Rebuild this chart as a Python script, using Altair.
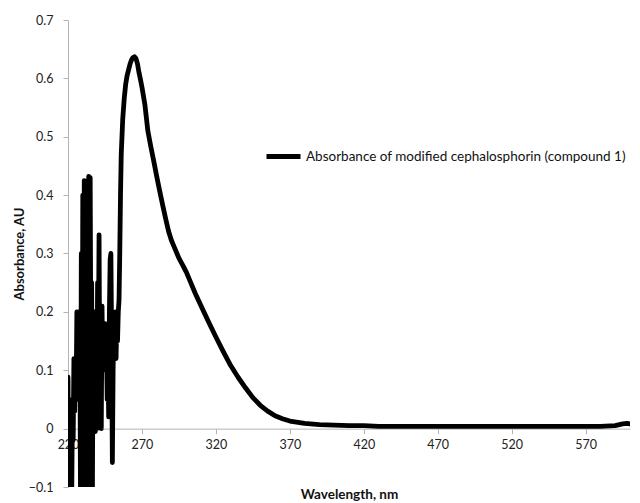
import altair as alt
import pandas as pd

# Noisy region 220-254.5 nm, 0.5 nm steps
noise_wl = [220 + 0.5 * i for i in range(70)]
noise_ab = [0.088, -0.12, 0.05, -0.13, 0.03, -0.12, 0.04, -0.02, 0.12, 0.03,
            0.11, 0.06, 0.20, 0.05, 0.20, 0.10, 0.18, -0.15, 0.30, -0.12,
            0.40, -0.15, 0.425, -0.14, 0.42, -0.13, 0.30, -0.15, 0.432, -0.12,
            0.43, 0.10, 0.25, -0.12, 0.20, 0.05, 0.20, -0.005, 0.18, 0.0,
            0.25, 0.12, 0.332, 0.05, 0.20, 0.0, 0.21, 0.10, 0.16, 0.12,
            0.18, 0.10, 0.15, 0.05, 0.12, 0.02, 0.20, 0.29, 0.30, 0.15,
            -0.058, 0.10, 0.18, 0.12, 0.20, 0.12, 0.185, 0.15, 0.20, 0.22]

# Main absorption band
band_wl = [255, 255.5, 256, 257, 258, 259, 260, 261, 262, 263, 264, 265, 266,
           267, 268, 269, 270, 272, 274, 276, 278, 280, 282, 284, 286, 288,
           290, 292, 295, 298, 300, 303, 306, 310, 315, 320, 325, 330, 335,
           340, 345, 350, 355, 360, 365, 370]
band_ab = [0.30, 0.40, 0.47, 0.53, 0.565, 0.59, 0.605, 0.615, 0.625, 0.632,
           0.636, 0.637, 0.634, 0.625, 0.61, 0.598, 0.585, 0.555, 0.51, 0.483,
           0.458, 0.432, 0.407, 0.383, 0.36, 0.338, 0.322, 0.31, 0.292, 0.278,
           0.268, 0.25, 0.232, 0.21, 0.183, 0.157, 0.132, 0.108, 0.088, 0.07,
           0.053, 0.04, 0.03, 0.022, 0.017, 0.013]

# Flat tail
tail_wl = [380, 390, 400, 410, 420, 430, 440, 450, 460, 470, 480, 490, 500,
           510, 520, 530, 540, 550, 560, 570, 580, 590, 595, 598, 600]
tail_ab = [0.009, 0.007, 0.006, 0.005, 0.005, 0.004, 0.004, 0.004, 0.004,
           0.004, 0.004, 0.004, 0.004, 0.004, 0.004, 0.004, 0.004, 0.004,
           0.004, 0.004, 0.004, 0.005, 0.008, 0.009, 0.008]

series_name = "Absorbance of modified cephalosphorin (compound 1)"
x_ticks = [220, 270, 320, 370, 420, 470, 520, 570]
y_ticks = [-0.1, 0, 0.1, 0.2, 0.3, 0.4, 0.5, 0.6, 0.7]

df = pd.DataFrame({
    "wl": noise_wl + band_wl + tail_wl,
    "ab": noise_ab + band_ab + tail_ab,
})
df["series"] = series_name

FONT = "Lato"
W, H = 562, 467
offset_x = -H * 0.1 / 0.8

chart = alt.Chart(df).mark_line(
    strokeWidth=4.8, strokeJoin="round", strokeCap="round", clip=True
).encode(
    x=alt.X("wl:Q", scale=alt.Scale(domain=[220, 600], nice=False, zero=False),
            axis=alt.Axis(title="Wavelength, nm", values=x_ticks, offset=offset_x,
                          grid=False, tickSize=5, domainColor="#b3b3b3",
                          tickColor="#b3b3b3", labelFontSize=12.5, labelColor="#222",
                          labelFont=FONT, titleFont=FONT, titleFontSize=13.5,
                          titleFontWeight="bold", titlePadding=36, labelPadding=5,
                          titleColor="#111", labelFlush=False, labelOverlap=False)),
    y=alt.Y("ab:Q", scale=alt.Scale(domain=[-0.1, 0.7], nice=False, zero=False),
            axis=alt.Axis(title="Absorbance, AU", values=y_ticks, grid=False,
                          tickSize=5, domainColor="#b3b3b3", tickColor="#b3b3b3",
                          labelFontSize=12.5, labelColor="#222", labelFont=FONT,
                          titleFont=FONT, titleFontSize=13, titleFontWeight="bold",
                          titlePadding=2, labelPadding=10, titleColor="#111",
                          labelExpr="datum.value == 0 ? '0' : format(datum.value, '.1f')")),
    order="wl:Q",
    color=alt.Color("series:N", scale=alt.Scale(range=["black"]),
                    legend=alt.Legend(title=None, orient="none", legendX=196,
                                      legendY=117, symbolType="stroke",
                                      symbolSize=1156, symbolStrokeWidth=5,
                                      labelFont=FONT, labelFontSize=13.5,
                                      labelColor="#111", labelLimit=400,
                                      labelOffset=3)),
).properties(
    width=W, height=H,
    autosize=alt.AutoSizeParams(type="none"),
    padding={"left": 60, "top": 12, "right": 2, "bottom": 14},
).configure_view(stroke=None)

chart.save("out.html", embed_options={"renderer": "svg", "actions": False})
